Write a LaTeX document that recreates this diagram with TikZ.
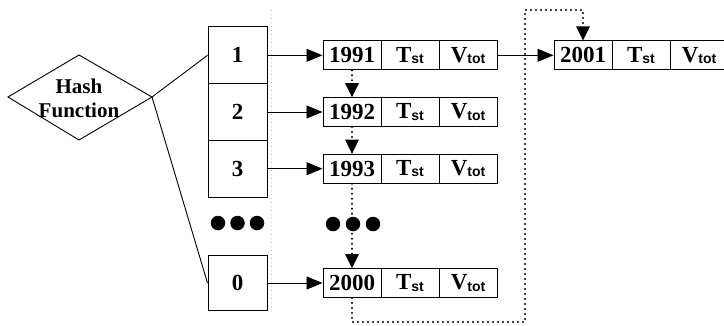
\documentclass[tikz,border=0pt]{standalone}
\usepackage{fontspec}
\setmainfont{Liberation Serif}
\newfontfamily\subf{Liberation Sans}
\usetikzlibrary{arrows.meta}
\newcommand\mysub[1]{\raisebox{-1.5pt}{\subf\bfseries\fontsize{14}{14}\selectfont #1}}
\newcommand\Tst{T\mysub{st}}
\newcommand\Vtot{V\mysub{tot}}
\begin{document}
\begin{tikzpicture}[x=1pt,y=-1pt,
  bigfont/.style={font=\fontsize{23}{26}\selectfont\bfseries},
  cell/.style={draw, line width=1pt, minimum width=58pt, minimum height=29pt, inner sep=0pt, bigfont},
  slot/.style={draw, line width=1pt, minimum width=59pt, inner sep=0pt, bigfont},
  tip/.style={-{Triangle[length=16pt,width=13pt]}},
  link/.style={tip, line width=0.9pt},
  dotl/.style={line width=2.3pt, dash pattern=on 0pt off 5pt, line cap=round},
  bigdot/.style={circle, fill, inner sep=0pt, minimum size=14.5pt},
  faint/.style={gray!45, line width=0.6pt, dash pattern=on 1pt off 3pt}]
\useasboundingbox (0,0) rectangle (724,325);

% faint vertical dotted line
\coordinate (fT) at (271,10);
\coordinate (fB) at (271,312);
\draw[faint] (fT) -- (fB);

% hash function diamond
\coordinate (hfL) at (8,97);
\coordinate (hfT) at (79,55);
\coordinate (hfR) at (152,97);
\coordinate (hfB) at (79,140);
\draw[line width=0.9pt] (hfL) -- (hfT) -- (hfR) -- (hfB) -- cycle;
\node[font=\fontsize{21}{24}\selectfont\bfseries, align=center] (hf) at (79,98) {Hash\\Function};

% table slots
\node[slot, minimum height=56.7pt] (s1) at (237.5,55.3) {1};
\node[slot, minimum height=56.7pt] (s2) at (237.5,112) {2};
\node[slot, minimum height=56.7pt] (s3) at (237.5,168.7) {3};
\node[slot, minimum height=55pt] (s0) at (237.5,283) {0};

\draw[line width=0.9pt] (hfR) -- (s1.west);
\draw[line width=0.9pt] (hfR) -- (s0.west);

% table dots
\node[bigdot] (td1) at (218,223) {};
\node[bigdot] (td2) at (237.5,223) {};
\node[bigdot] (td3) at (257,223) {};

% records
\node[cell] (a1) at (352,55.3) {1991};
\node[cell] (b1) at (410,55.3) {\Tst};
\node[cell] (c1) at (468,55.3) {\Vtot};

\node[cell] (a2) at (352,112) {1992};
\node[cell] (b2) at (410,112) {\Tst};
\node[cell] (c2) at (468,112) {\Vtot};

\node[cell] (a3) at (352,168.7) {1993};
\node[cell] (b3) at (410,168.7) {\Tst};
\node[cell] (c3) at (468,168.7) {\Vtot};

\node[cell] (a0) at (352,283) {2000};
\node[cell] (b0) at (410,283) {\Tst};
\node[cell] (c0) at (468,283) {\Vtot};

\node[cell] (a5) at (583,55.3) {2001};
\node[cell] (b5) at (641,55.3) {\Tst};
\node[cell] (c5) at (699,55.3) {\Vtot};

% chain dots
\node[bigdot] (cd1) at (333,224) {};
\node[bigdot] (cd2) at (353,224) {};
\node[bigdot] (cd3) at (373,224) {};

% slot to record links
\draw[link] (s1.east) -- (a1.west);
\draw[link] (s2.east) -- (a2.west);
\draw[link] (s3.east) -- (a3.west);
\draw[link] (s0.east) -- (a0.west);
\draw[link] (c1.east) -- (a5.west);

% dotted chain
\draw[dotl] (a1.south) -- (a2.north);
\draw[dotl] (a2.south) -- (a3.north);
\draw[dotl] (a3.south) -- (a0.north);
\fill ([xshift=-7pt,yshift=14pt]a2.north) -- ([xshift=7pt,yshift=14pt]a2.north) -- (a2.north) -- cycle;
\fill ([xshift=-7pt,yshift=14pt]a3.north) -- ([xshift=7pt,yshift=14pt]a3.north) -- (a3.north) -- cycle;
\fill ([xshift=-7pt,yshift=14pt]a0.north) -- ([xshift=7pt,yshift=14pt]a0.north) -- (a0.north) -- cycle;

% return path from 2000 to 2001
\coordinate (r1) at (352,322);
\coordinate (r2) at (525,322);
\coordinate (r3) at (525,10);
\coordinate (r4) at (583,10);
\draw[dotl] (a0.south) -- (r1) -- (r2) -- (r3) -- (r4) -- (a5.north);
\fill ([xshift=-7pt,yshift=14pt]a5.north) -- ([xshift=7pt,yshift=14pt]a5.north) -- (a5.north) -- cycle;
\end{tikzpicture}
\end{document}
